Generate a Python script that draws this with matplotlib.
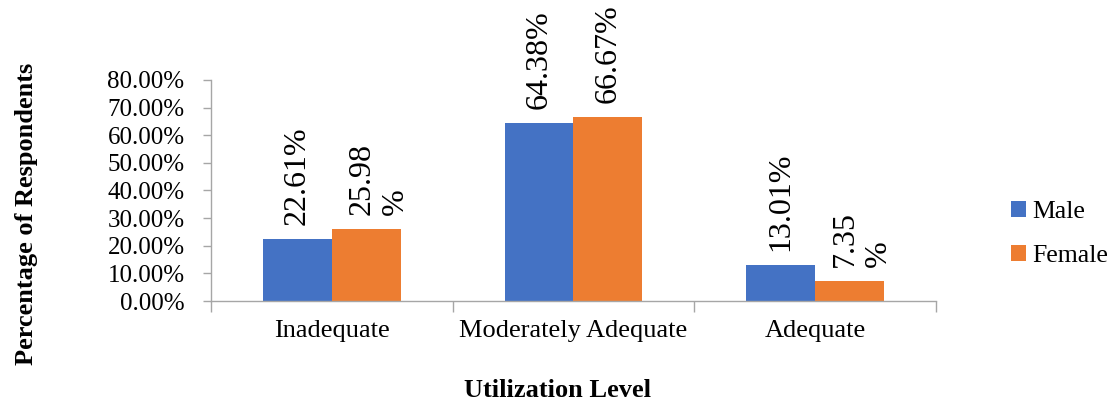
import matplotlib
matplotlib.use("Agg")
import matplotlib.pyplot as plt
import numpy as np

categories = ["Inadequate", "Moderately Adequate", "Adequate"]
series_names = ["Male", "Female"]
male = [22.61, 64.38, 13.01]
female = [25.98, 66.67, 7.35]
male_labels = ["22.61%", "64.38%", "13.01%"]
female_labels = ["25.98\n%", "66.67%", "7.35\n%"]
yticks = [0, 10, 20, 30, 40, 50, 60, 70, 80]
ytick_labels = ["0.00%", "10.00%", "20.00%", "30.00%", "40.00%", "50.00%", "60.00%", "70.00%", "80.00%"]

plt.rcParams['font.family'] = ['Liberation Serif', 'DejaVu Serif']
colors = ["#4472C4", "#ED7D31"]
gray = "#A6A6A6"

fig = plt.figure(figsize=(11.12, 4.03), dpi=100)
ax = fig.add_axes([0.1897, 0.2531, 0.6520, 0.5484])

x = np.arange(len(categories))
w = 0.285
b1 = ax.bar(x - w/2, male, w, color=colors[0], label=series_names[0], linewidth=0)
b2 = ax.bar(x + w/2, female, w, color=colors[1], label=series_names[1], linewidth=0)

for bars, labels in ((b1, male_labels), (b2, female_labels)):
    for rect, lab in zip(bars, labels):
        dx = 9 if "\n" in lab else 0
        ax.annotate(lab, (rect.get_x() + rect.get_width()/2, rect.get_height()),
                    xytext=(dx, 10), textcoords='offset points', rotation=90,
                    ha='center', va='bottom', multialignment='left',
                    fontsize=23, annotation_clip=False)

ax.set_xlim(-0.5, len(categories) - 0.5)
ax.set_ylim(0, 80)
ax.set_yticks(yticks)
ax.set_yticklabels(ytick_labels)
ax.set_xticks(np.arange(len(categories) + 1) - 0.5)
ax.set_xticklabels([])
ax.set_xticks(x, minor=True)
ax.set_xticklabels(categories, minor=True)
ax.tick_params(axis='x', which='minor', length=0, pad=14, labelsize=19)
ax.tick_params(axis='x', which='major', length=8, width=1, color=gray, direction='out')
ax.tick_params(axis='y', length=6, width=1, color=gray, direction='out', pad=13, labelsize=18)

for s in ('top', 'right'):
    ax.spines[s].set_visible(False)
for s in ('left', 'bottom'):
    ax.spines[s].set_color(gray)
    ax.spines[s].set_linewidth(1)

fig.text(0.024, 0.47, "Percentage of Respondents", rotation=90, ha='center', va='center',
         fontsize=19, fontweight='bold')
fig.text(0.501, 0.032, "Utilization Level", ha='center', va='center',
         fontsize=19, fontweight='bold')

leg = fig.legend(handles=[b1, b2], loc='center left', bbox_to_anchor=(0.888, 0.42),
                 frameon=False, fontsize=18.5, handlelength=0.6, handleheight=0.6,
                 handletextpad=0.25, labelspacing=0.85)

fig.savefig("out.png", dpi=100)
